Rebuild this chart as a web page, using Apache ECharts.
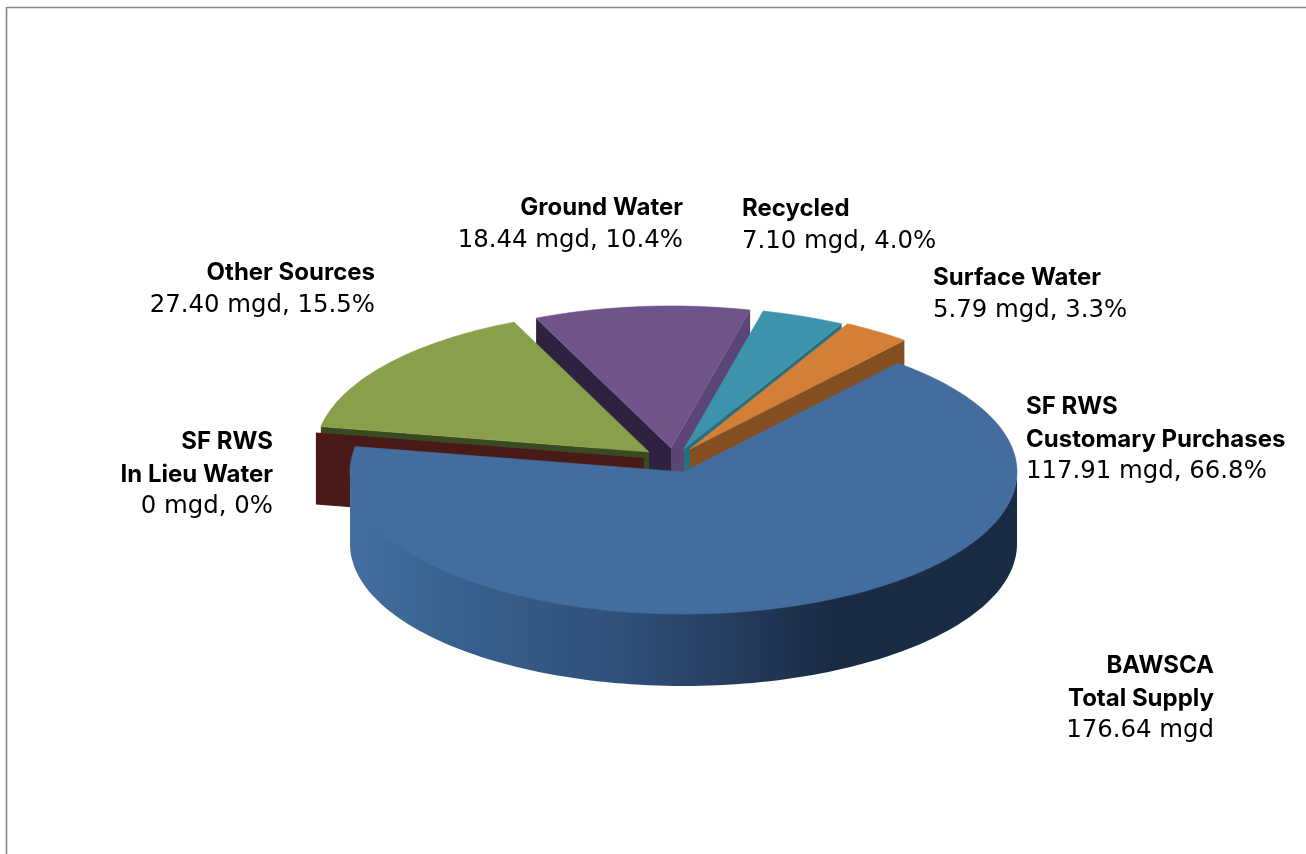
<!DOCTYPE html>
<html>
<head>
<meta charset="utf-8">
<style>html,body{margin:0;padding:0;background:#fff;overflow:hidden}#main{width:1306px;height:854px}</style>
<script src="https://cdn.jsdelivr.net/npm/echarts@6/dist/echarts.min.js"></script>
</head>
<body>
<div id="main"></div>
<script>
// ---- data
var categories = ['SF RWS Customary Purchases', 'SF RWS In Lieu Water', 'Other Sources', 'Ground Water', 'Recycled', 'Surface Water'];
var values = [117.91, 0, 27.40, 18.44, 7.10, 5.79];

// ---- label text: [lines in bold], value line
var labelTitles = [['SF RWS', 'Customary Purchases'], ['SF RWS', 'In Lieu Water'], ['Other Sources'], ['Ground Water'], ['Recycled'], ['Surface Water'], ['BAWSCA', 'Total Supply']];
var labelValues = ['117.91 mgd, 66.8%', '0 mgd, 0%', '27.40 mgd, 15.5%', '18.44 mgd, 10.4%', '7.10 mgd, 4.0%', '5.79 mgd, 3.3%', '176.64 mgd'];

// ---- style and layout
var labelAnchors = [[1026, 407, 'left'], [273, 442, 'right'], [375, 273, 'right'], [683, 208, 'right'], [742, 209, 'left'], [933, 278, 'left'], [1214, 666, 'right']];
var lineGap = 32.5;
var topColors = ['#436d9f', '#4a1a18', '#88a04a', '#6e5489', '#3c93ab', '#d47f38'];
var ccwWallColors = ['#1a2b44', '#4a1a18', '#3a4a20', '#2e2240', '#25707f', '#834f22'];
var cwWallColors = ['#1a2b44', '#4a1a18', '#3a4a20', '#5a4576', '#25707f', '#834f22'];
var tipOffsets = [[0, 0], [-39.5, -14], [-34.5, -20], [-12.5, -24], [0.5, -23], [6.5, -23]];
var paintOrder = [3, 2, 1, 4, 5, 0];
var centerX = 683.5, centerY = 472, radiusX = 333.5, radiusY = 142, depth = 72, startAngle = 50;
var boldFont = 'bold 24px Inter, sans-serif', plainFont = '24.4px "DejaVu Sans", sans-serif';

var total = values.reduce(function (a, b) { return a + b; }, 0);
var angles = [];
values.reduce(function (a, v, i) {
  var b = a - v / total * 360;
  angles[i] = [a, b];
  return b;
}, startAngle);

function rim(tip, deg, dy) {
  var r = deg * Math.PI / 180;
  return [tip[0] + radiusX * Math.cos(r), tip[1] - radiusY * Math.sin(r) + dy];
}
function arc(tip, a, b, dy) {
  var n = Math.max(2, Math.ceil(Math.abs(a - b) / 1.5)), pts = [];
  for (var i = 0; i <= n; i++) pts.push(rim(tip, a + (b - a) * i / n, dy));
  return pts;
}
function norm(d) { return ((d % 360) + 360) % 360; }
function poly(points, fill, stroke) {
  var style = { fill: fill };
  if (stroke) { style.stroke = stroke; style.lineWidth = 0.6; }
  return { type: 'polygon', shape: { points: points }, style: style };
}

var blueWall = new echarts.graphic.LinearGradient(0, 0, 1, 0, [
  { offset: 0, color: '#436fa1' },
  { offset: 0.15, color: '#38618e' },
  { offset: 0.42, color: '#2f4f78' },
  { offset: 0.72, color: '#1a2b44' },
  { offset: 1, color: '#1a2b44' }
]);

function renderSlice(params) {
  var i = paintOrder[params.dataIndex];
  var a = angles[i][0], b = angles[i][1];
  var tip = [centerX + tipOffsets[i][0], centerY + tipOffsets[i][1]];
  var children = [];
  var low = tip[1] + depth;
  function radialWall(deg, color) {
    var end = rim(tip, deg, 0), endLow = rim(tip, deg, depth);
    children.push(poly([tip, end, endLow, [tip[0], low]], color));
  }
  var na = norm(a), nb = norm(b);
  if (na > 90 && na < 180) radialWall(a, ccwWallColors[i]);
  if (nb < 90) radialWall(b, cwWallColors[i]);
  // outer wall, only where the rim faces the viewer
  var from = Math.max(b, -180), to = Math.min(a, 0);
  if (from < to) {
    var upper = arc(tip, to, from, -1), lower = arc(tip, to, from, depth).reverse();
    children.push(poly(upper.concat(lower), i === 0 ? blueWall : ccwWallColors[i]));
  }
  if (a !== b) children.push(poly([tip].concat(arc(tip, a, b, 0)), topColors[i], topColors[i]));
  return { type: 'group', children: children };
}

var texts = [];
labelTitles.forEach(function (lines, k) {
  var anchor = labelAnchors[k];
  lines.concat([labelValues[k]]).forEach(function (line, j) {
    texts.push({
      type: 'text', x: anchor[0], y: anchor[1] + j * lineGap, z: 10,
      style: {
        text: line, fill: '#000', align: anchor[2], verticalAlign: 'middle',
        font: j < lines.length ? boldFont : plainFont
      }
    });
  });
});
var frame = [
  { type: 'line', z: 1, shape: { x1: 7, y1: 7.5, x2: 1306, y2: 7.5 }, style: { stroke: '#888', lineWidth: 1.4 } },
  { type: 'line', z: 1, shape: { x1: 6.5, y1: 7, x2: 6.5, y2: 854 }, style: { stroke: '#888', lineWidth: 1.6 } }
];

var chart = echarts.init(document.getElementById('main'), null, { renderer: 'canvas' });
chart.setOption({
  animation: false,
  backgroundColor: '#fff',
  tooltip: { show: false },
  graphic: { elements: frame.concat(texts) },
  series: [{
    type: 'custom',
    coordinateSystem: 'none',
    renderItem: renderSlice,
    silent: true,
    data: paintOrder.map(function (i) { return { name: categories[i], value: values[i] }; })
  }]
});
</script>
</body>
</html>
